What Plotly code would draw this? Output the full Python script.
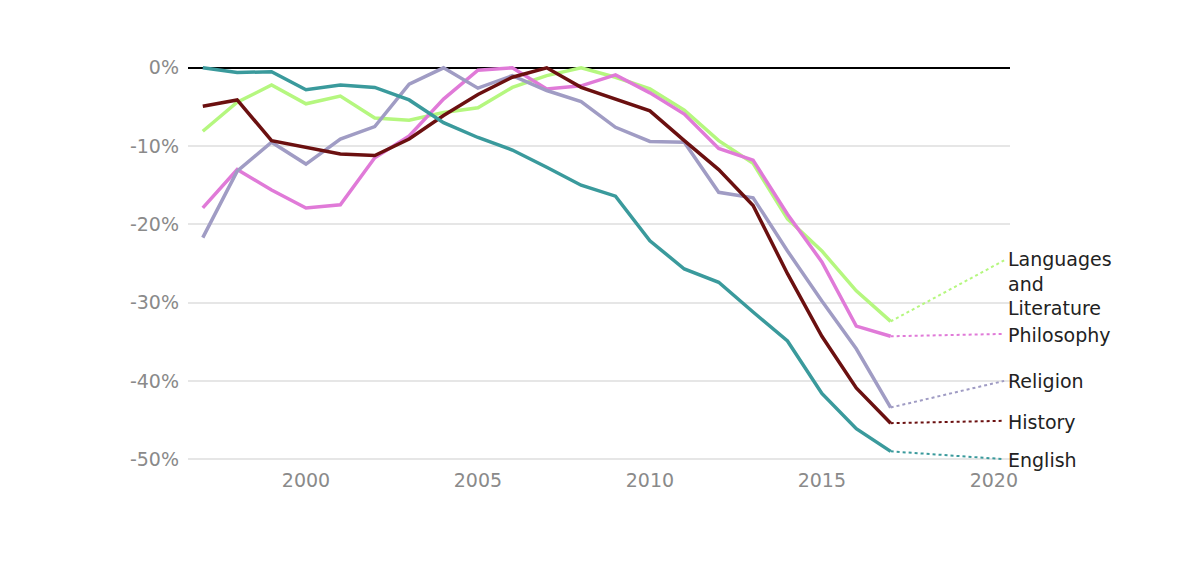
import plotly.graph_objects as go

years = list(range(1997, 2018))

english = [0, -0.6, -0.5, -2.8, -2.2, -2.5, -4.1, -7.0, -8.9, -10.5, -12.7, -15.0, -16.4,
           -22.1, -25.7, -27.4, -31.2, -34.9, -41.6, -46.1, -49.0]
history = [-4.9, -4.1, -9.3, -10.1, -11.0, -11.2, -9.1, -6.1, -3.4, -1.2, 0, -2.5, -4.0,
           -5.5, -9.3, -13.0, -17.6, -26.3, -34.3, -40.9, -45.4]
philosophy = [-17.9, -13.0, -15.6, -17.9, -17.5, -11.5, -8.7, -4.0, -0.3, 0, -2.7, -2.3, -0.9,
              -3.2, -5.9, -10.3, -11.8, -18.7, -24.8, -33.0, -34.3]
languages = [-8.1, -4.4, -2.2, -4.6, -3.6, -6.4, -6.7, -5.7, -5.1, -2.5, -1.0, 0, -1.2,
             -2.7, -5.4, -9.3, -12.2, -19.3, -23.4, -28.5, -32.4]
religion = [-21.7, -13.2, -9.5, -12.3, -9.1, -7.5, -2.1, 0, -2.6, -1.0, -2.9, -4.3, -7.6,
            -9.4, -9.5, -15.9, -16.6, -23.4, -29.8, -35.9, -43.4]

series_names = ["Languages<br>and<br>Literature", "Philosophy", "Religion", "History", "English"]
series_values = [languages, philosophy, religion, history, english]
series_colors = ["#b5f77f", "#e07ad8", "#a09cc4", "#6b1010", "#3a9a9c"]
label_y = [-27.6, -34.1, -40.0, -45.2, -50.1]
dash_end_y = [-24.6, -34.0, -40.0, -45.1, -50.0]
label_x = 2020.3

x_ticks = [2000, 2005, 2010, 2015, 2020]
y_ticks = [0, -10, -20, -30, -40, -50]
y_tick_text = ["0%", "-10%", "-20%", "-30%", "-40%", "-50%"]

fig = go.Figure()

for name, vals, col, dy in zip(series_names, series_values, series_colors, dash_end_y):
    fig.add_trace(go.Scatter(x=[years[-1], label_x], y=[vals[-1], dy], mode="lines",
                             line=dict(color=col, width=2, dash="3px,3px"),
                             hoverinfo="skip", showlegend=False))

for name, vals, col in zip(series_names, series_values, series_colors):
    fig.add_trace(go.Scatter(x=years, y=vals, mode="lines", name=name.replace("<br>", " "),
                             line=dict(color=col, width=3.5), showlegend=False))

for name, ly in zip(series_names, label_y):
    fig.add_annotation(x=label_x, y=ly, xref="x", yref="y", text=name, showarrow=False,
                       xanchor="left", yanchor="middle", align="left", xshift=2,
                       font=dict(family="DejaVu Sans, sans-serif", size=19, color="#222222"))

tick_font = dict(family="DejaVu Sans, sans-serif", size=19, color="#8a8a8a")

fig.update_layout(
    width=1200, height=562,
    margin=dict(l=180, r=198, t=52, b=103),
    plot_bgcolor="white", paper_bgcolor="white",
    font=dict(family="DejaVu Sans, sans-serif", size=19, color="#8a8a8a"),
    xaxis=dict(range=[1996.57, 2020.47], tickvals=x_ticks, showgrid=False, zeroline=False,
               showline=False, ticks="", tickfont=tick_font),
    yaxis=dict(range=[-51, 1], tickvals=y_ticks, ticktext=y_tick_text, showgrid=True,
               gridcolor="#e6e6e6", gridwidth=1.5, zeroline=True, zerolinecolor="#000000",
               zerolinewidth=2, showline=False, ticks="", ticklabelstandoff=8,
               tickfont=tick_font),
)

fig.write_html("out.html")
